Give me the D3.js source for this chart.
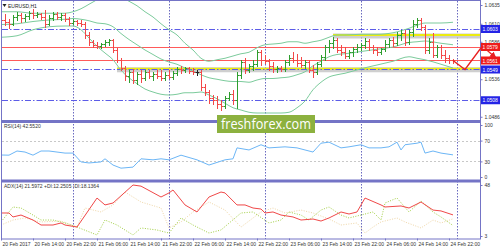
<!DOCTYPE html>
<html><head><meta charset="utf-8">
<script src="https://cdn.jsdelivr.net/npm/d3@7"></script>
<style>body{margin:0;background:#fff}svg{display:block}</style>
</head><body><svg id="c" width="500" height="250"></svg>
<script>
// ---------- DATA ----------
const symbolTitle = "EURUSD,H1";
const rsiTitle = "RSI(14) 42.5520";
const adxTitle = "ADX(14) 21.5972 +DI:12.2505 -DI:18.1364";
const firstBarHour = 6; // hours after 20 Feb 2017 00:00 (UTC), one bar per hour
const opens = [
1.0616,1.0615,1.0612,1.0610,1.0619,1.0622,1.0618,1.0620,1.0624,1.0622,
1.0623,1.0619,1.0610,1.0618,1.0623,1.0619,1.0622,1.0616,1.0611,1.0614,
1.0611,1.0610,1.0595,1.0586,1.0582,1.0580,1.0583,1.0586,1.0588,1.0575,
1.0562,1.0551,1.0540,1.0546,1.0535,1.0543,1.0538,1.0546,1.0540,1.0543,
1.0540,1.0538,1.0542,1.0539,1.0544,1.0550,1.0548,1.0551,1.0547,1.0546,
1.0546,1.0526,1.0519,1.0511,1.0508,1.0503,1.0500,1.0511,1.0516,1.0508,
1.0542,1.0559,1.0548,1.0554,1.0556,1.0572,1.0562,1.0560,1.0554,1.0550,
1.0551,1.0550,1.0559,1.0564,1.0562,1.0558,1.0555,1.0559,1.0548,1.0546,
1.0556,1.0566,1.0579,1.0584,1.0588,1.0575,1.0572,1.0567,1.0572,1.0576,
1.0579,1.0582,1.0587,1.0579,1.0575,1.0572,1.0576,1.0583,1.0588,1.0584,
1.0595,1.0598,1.0586,1.0599,1.0610,1.0615,1.0606,1.0575,1.0586,1.0568,
1.0579,1.0568,1.0564,1.0562];
const highs = [
1.0620,1.0623,1.0616,1.0622,1.0626,1.0624,1.0623,1.0627,1.0630,1.0626,
1.0624,1.0628,1.0622,1.0626,1.0626,1.0624,1.0624,1.0619,1.0616,1.0615,
1.0615,1.0612,1.0599,1.0588,1.0586,1.0584,1.0588,1.0590,1.0590,1.0578,
1.0564,1.0554,1.0548,1.0550,1.0546,1.0548,1.0548,1.0548,1.0546,1.0548,
1.0548,1.0546,1.0548,1.0547,1.0552,1.0554,1.0552,1.0552,1.0551,1.0548,
1.0548,1.0530,1.0522,1.0515,1.0514,1.0508,1.0514,1.0519,1.0522,1.0546,
1.0562,1.0564,1.0556,1.0562,1.0575,1.0575,1.0568,1.0563,1.0559,1.0554,
1.0554,1.0562,1.0568,1.0572,1.0570,1.0566,1.0562,1.0562,1.0555,1.0559,
1.0568,1.0582,1.0588,1.0592,1.0591,1.0582,1.0579,1.0575,1.0579,1.0583,
1.0584,1.0591,1.0590,1.0582,1.0579,1.0578,1.0588,1.0591,1.0592,1.0599,
1.0602,1.0602,1.0602,1.0615,1.0618,1.0618,1.0608,1.0591,1.0598,1.0582,
1.0582,1.0575,1.0568,1.0563];
const lows = [
1.0612,1.0608,1.0604,1.0608,1.0615,1.0612,1.0614,1.0616,1.0618,1.0619,
1.0616,1.0606,1.0608,1.0615,1.0616,1.0615,1.0614,1.0608,1.0610,1.0608,
1.0607,1.0591,1.0582,1.0579,1.0578,1.0578,1.0580,1.0582,1.0572,1.0559,
1.0548,1.0535,1.0532,1.0531,1.0530,1.0532,1.0535,1.0538,1.0535,1.0538,
1.0535,1.0535,1.0538,1.0536,1.0542,1.0544,1.0546,1.0544,1.0543,1.0542,
1.0522,1.0515,1.0504,1.0503,1.0498,1.0495,1.0498,1.0508,1.0503,1.0498,
1.0538,1.0544,1.0546,1.0548,1.0554,1.0555,1.0558,1.0548,1.0546,1.0546,
1.0547,1.0547,1.0555,1.0559,1.0554,1.0552,1.0551,1.0546,1.0539,1.0543,
1.0554,1.0562,1.0572,1.0578,1.0572,1.0568,1.0564,1.0564,1.0567,1.0572,
1.0575,1.0578,1.0575,1.0571,1.0568,1.0570,1.0574,1.0579,1.0580,1.0582,
1.0588,1.0582,1.0583,1.0594,1.0606,1.0602,1.0571,1.0571,1.0566,1.0566,
1.0564,1.0559,1.0558,1.0558];
const closes = [
1.0615,1.0612,1.0610,1.0619,1.0622,1.0618,1.0620,1.0624,1.0622,1.0623,
1.0619,1.0610,1.0618,1.0623,1.0619,1.0622,1.0616,1.0611,1.0614,1.0611,
1.0610,1.0595,1.0586,1.0582,1.0580,1.0583,1.0586,1.0588,1.0575,1.0562,
1.0551,1.0540,1.0546,1.0535,1.0543,1.0538,1.0546,1.0540,1.0543,1.0540,
1.0538,1.0542,1.0539,1.0544,1.0550,1.0548,1.0551,1.0547,1.0546,1.0546,
1.0526,1.0519,1.0511,1.0508,1.0503,1.0500,1.0511,1.0516,1.0508,1.0542,
1.0559,1.0548,1.0554,1.0556,1.0572,1.0562,1.0560,1.0554,1.0550,1.0551,
1.0550,1.0559,1.0564,1.0562,1.0558,1.0555,1.0559,1.0548,1.0546,1.0556,
1.0566,1.0579,1.0584,1.0588,1.0575,1.0572,1.0567,1.0572,1.0576,1.0579,
1.0582,1.0587,1.0579,1.0575,1.0572,1.0576,1.0583,1.0588,1.0584,1.0595,
1.0598,1.0586,1.0599,1.0610,1.0615,1.0606,1.0575,1.0586,1.0568,1.0579,
1.0568,1.0564,1.0562,1.0561];

const bandHours = [6,10,14,18,22,24,26,28,30,32,34,36,38,40,42,44,46,48,50,52,54,56,58,60,62,64,66,68,70,72,74,76,78,80,82,84,86,88,90,92,96,100,104,108,110,112,116,119];
const bandUpper = [1.0626,1.0626,1.0624,1.0624,1.0624,1.0626,1.0630,1.0636,1.0642,1.0648,1.0650,1.0646,1.0640,1.0634,1.0626,1.0619,1.0610,1.0602,1.0595,1.0584,1.0575,1.0564,1.0560,1.0562,1.0564,1.0567,1.0570,1.0572,1.0578,1.0582,1.0583,1.0584,1.0586,1.0586,1.0584,1.0586,1.0588,1.0592,1.0595,1.0595,1.0596,1.0596,1.0598,1.0604,1.0608,1.0611,1.0611,1.0612];
const bandMiddle = [1.0609,1.0610,1.0613,1.0615,1.0616,1.0617,1.0616,1.0614,1.0611,1.0610,1.0606,1.0597,1.0589,1.0582,1.0575,1.0569,1.0563,1.0559,1.0556,1.0551,1.0547,1.0542,1.0538,1.0536,1.0534,1.0533,1.0533,1.0532,1.0535,1.0537,1.0537,1.0538,1.0539,1.0542,1.0546,1.0554,1.0560,1.0566,1.0569,1.0570,1.0573,1.0576,1.0579,1.0585,1.0586,1.0587,1.0584,1.0582];
const bandLower = [1.0592,1.0594,1.0602,1.0606,1.0607,1.0607,1.0602,1.0591,1.0580,1.0571,1.0562,1.0548,1.0538,1.0530,1.0523,1.0519,1.0516,1.0515,1.0516,1.0518,1.0518,1.0519,1.0515,1.0510,1.0504,1.0498,1.0495,1.0492,1.0491,1.0491,1.0491,1.0491,1.0492,1.0498,1.0507,1.0522,1.0532,1.0539,1.0542,1.0544,1.0550,1.0555,1.0560,1.0566,1.0564,1.0562,1.0556,1.0551];

const blueLevels = [1.0603, 1.0549, 1.0508];
const redLevels = [1.0579, 1.0561];
const yellowLevels = [1.0550, 1.0595];
const yellowStartHours = [35, 89];
const forecastHours = [119, 122, 126.3];
const forecastPrices = [1.0561, 1.0549, 1.0580];
const arrowHours = [127, 129.6];
const arrowPrices = [1.0577, 1.0565];

const priceTicks = [1.0635, 1.0610, 1.0586, 1.0536, 1.0486];
const rsiTicks = [0, 30, 70, 100];
const adxTicks = [3, 48];

const rsiHours = [6,8,10,12,14,16,18,22,24,26,28,31,32,34,36,39,41,44,46,48,51,55,58,62,64,65,68,71,73,77,80,84,86,88,91,93,96,98,101,103,105,106,107,110,111,112,114,116,119];
const rsiValues = [42.3,42,50,48,42,50,50,46,46,29,27,29,35,23,17,19,35,33,35,33,42,33,23,33,35,56,52,62,56,58,56,48,65,67,56,58,62,56,56,58,67,52,62,65,67,46,50,46,42.55];

const adxHours = [6,8,9,11,14,16,19,21,22,25,30,32,34,39,41,46,48,49,52,55,58,61,62,65,67,69,71,72,74,76,79,81,84,86,88,91,93,95,97,101,102,106,108,111,114,116,119];
const adxValues = [23.3,23.3,19.8,21.5,17.1,12.7,12.7,14.5,12.7,10.9,36.5,30.4,32.1,48,47,37.4,41,43.6,30.4,24.2,37.4,41.8,41,30.4,30.4,27.7,26.8,23.3,24.2,21.5,19.8,17.1,18,16.2,18.9,24.2,22.4,24.2,36.5,30.4,28.6,29.5,27.7,33,25.9,25.1,21.6];
const plusDiHours = [6,9,11,14,16,19,22,25,30,32,35,39,41,45,48,51,54,58,61,66,69,73,76,78,81,83,86,88,91,93,96,99,101,102,105,108,111,114,116,119];
const plusDiValues = [15.4,28.6,27.7,21.5,17.1,17.1,14.5,10.9,3.9,17.1,12.7,3.9,10.1,8.3,5.6,18.9,12.7,5.6,8.3,23.3,24.2,14.5,17.1,24.2,21.5,17.1,25.9,28.6,21.5,18.9,21.5,24.2,17.1,32.1,36.5,24.2,33.9,24.2,19.8,12.25];
const minusDiHours = [6,9,12,16,21,25,27,31,34,37,41,46,48,51,54,58,62,66,71,74,77,81,84,88,91,95,97,99,101,105,107,111,114,116,119];
const minusDiValues = [12.7,17.1,18.9,15.4,16.2,10.9,27.7,24.2,30.4,41.8,33,27.7,10.1,15.4,24.2,33,25.9,10.9,24.2,27.7,23.3,25.9,23.3,18,12.7,14.5,5.6,10.9,15.4,18.9,15.4,10.1,17.1,14.5,18.14];

const dayBreakHours = [24, 48, 72, 96, 120];
const timeLabelHours = [6,14,22,30,38,46,54,62,70,78,86,94,102,110,118];
const timeLabels = ["20 Feb 2017","20 Feb 14:00","20 Feb 22:00","21 Feb 06:00","21 Feb 14:00","21 Feb 22:00","22 Feb 06:00","22 Feb 14:00","22 Feb 22:00","23 Feb 06:00","23 Feb 14:00","23 Feb 22:00","24 Feb 06:00","24 Feb 14:00","24 Feb 22:00"];
const watermark = "freshforex.com";

// ---------- SCALES ----------
const T0 = Date.UTC(2017, 1, 20, 0);
const hd = h => new Date(T0 + h * 3600e3);
const x = d3.scaleUtc().domain([hd(0), hd(120)]).range([-23, 457]);
const yP = d3.scaleLinear().domain([1.0486, 1.0635]).range([116.75, 5]);
const yR = d3.scaleLinear().domain([0, 100]).range([177, 125]);
const yA = d3.scaleLinear().domain([3, 48]).range([236, 185]);
const xh = h => x(hd(h));

const FONT = "'Liberation Sans', Arial, sans-serif";
const frame = "#7474c6";
const svg = d3.select("#c");
svg.append("rect").attr("width", 500).attr("height", 250).attr("fill", "#fff");

const defs = svg.append("defs");
defs.append("clipPath").attr("id", "cm").append("rect").attr("x", 2).attr("y", 1).attr("width", 478).attr("height", 119);
defs.append("clipPath").attr("id", "cr").append("rect").attr("x", 2).attr("y", 123).attr("width", 478).attr("height", 56);
defs.append("clipPath").attr("id", "ca").append("rect").attr("x", 2).attr("y", 183).attr("width", 478).attr("height", 55);
defs.append("marker").attr("id", "ah").attr("viewBox", "0 0 10 10").attr("refX", 8).attr("refY", 5)
  .attr("markerWidth", 5).attr("markerHeight", 5).attr("orient", "auto")
  .append("path").attr("d", "M0,0L10,5L0,10z").attr("fill", "#e82020");

// day separators
svg.append("g").selectAll("line").data(dayBreakHours).join("line")
  .attr("x1", d => Math.round(xh(d)) + 0.5).attr("x2", d => Math.round(xh(d)) + 0.5)
  .attr("y1", 1).attr("y2", 239)
  .attr("stroke", "#6a6ac0").attr("stroke-width", 1).attr("stroke-dasharray", "1.5,1.5");

// RSI 70 / 30 levels
svg.append("g").selectAll("line").data([30, 70]).join("line")
  .attr("x1", 2).attr("x2", 480).attr("y1", d => Math.round(yR(d)) + 0.5).attr("y2", d => Math.round(yR(d)) + 0.5)
  .attr("stroke", "#c8c8c8").attr("stroke-dasharray", "2,2");

// main panel
const main = svg.append("g").attr("clip-path", "url(#cm)");
yellowLevels.forEach((v, i) => {
  const y = yP(v);
  main.append("line").attr("x1", xh(yellowStartHours[i])).attr("x2", 480).attr("y1", y + 1).attr("y2", y + 1)
    .attr("stroke", "#c4c4c4").attr("stroke-width", 5).attr("opacity", 0.8);
  main.append("line").attr("x1", xh(yellowStartHours[i])).attr("x2", 480).attr("y1", y).attr("y2", y)
    .attr("stroke", "#ecec10").attr("stroke-width", 2);
});
main.append("g").selectAll("line").data(redLevels).join("line")
  .attr("x1", 2).attr("x2", 480).attr("y1", d => Math.round(yP(d)) + 0.5).attr("y2", d => Math.round(yP(d)) + 0.5)
  .attr("stroke", "#ff5a5a").attr("stroke-width", 1);
main.append("g").selectAll("line").data(blueLevels).join("line")
  .attr("x1", 2).attr("x2", 480).attr("y1", d => Math.round(yP(d)) + 0.5).attr("y2", d => Math.round(yP(d)) + 0.5)
  .attr("stroke", "#5c5ce8").attr("stroke-width", 1).attr("stroke-dasharray", "6,2,1.5,2");

const bandLine = arr => d3.line().x((d, i) => xh(bandHours[i])).y(d => yP(d)).curve(d3.curveMonotoneX)(arr);
[bandUpper, bandMiddle, bandLower].forEach(arr => {
  main.append("path").attr("d", bandLine(arr)).attr("fill", "none").attr("stroke", "#7ccb9c").attr("stroke-width", 1);
});

const bars = opens.map((o, i) => ({ t: hd(firstBarHour + i), o, h: highs[i], l: lows[i], c: closes[i] }));
main.append("g").selectAll("path").data(bars).join("path")
  .attr("d", d => {
    const xc = Math.round(x(d.t)) + 0.5;
    const r = v => Math.round(yP(v)) + 0.5;
    return `M${xc},${r(d.h) - 0.5}V${r(d.l) + 0.5}M${xc - 2},${r(d.o)}H${xc}M${xc},${r(d.c)}H${xc + 2}`;
  })
  .attr("fill", "none")
  .attr("stroke", d => d.c > d.o ? "#2e9e2e" : (d.c < d.o ? "#f24848" : "#222"))
  .attr("stroke-width", 1);

// RSI
svg.append("path").attr("clip-path", "url(#cr)")
  .attr("d", d3.line().x((d, i) => xh(rsiHours[i])).y(d => yR(d))(rsiValues))
  .attr("fill", "none").attr("stroke", "#6cb6f6").attr("stroke-width", 1);

// ADX
const adxG = svg.append("g").attr("clip-path", "url(#ca)");
adxG.append("path").attr("d", d3.line().x((d, i) => xh(minusDiHours[i])).y(d => yA(d))(minusDiValues))
  .attr("fill", "none").attr("stroke", "#efd6a6").attr("stroke-width", 1).attr("stroke-dasharray", "1,1.5");
adxG.append("path").attr("d", d3.line().x((d, i) => xh(plusDiHours[i])).y(d => yA(d))(plusDiValues))
  .attr("fill", "none").attr("stroke", "#a2cf44").attr("stroke-width", 1).attr("stroke-dasharray", "1,1.5");
adxG.append("path").attr("d", d3.line().x((d, i) => xh(adxHours[i])).y(d => yA(d))(adxValues))
  .attr("fill", "none").attr("stroke", "#f04848").attr("stroke-width", 1);

// frame
svg.append("rect").attr("x", 1.5).attr("y", 0.5).attr("width", 479).attr("height", 238.5)
  .attr("fill", "none").attr("stroke", frame).attr("stroke-width", 1);
svg.append("line").attr("x1", 1).attr("x2", 481).attr("y1", 121.5).attr("y2", 121.5).attr("stroke", frame).attr("stroke-width", 3);
svg.append("line").attr("x1", 1).attr("x2", 481).attr("y1", 181).attr("y2", 181).attr("stroke", frame).attr("stroke-width", 3);

function styleAxis(g) {
  g.select(".domain").remove();
  g.attr("font-family", FONT).attr("font-size", 5);
  g.selectAll(".tick line").attr("stroke", frame);
  g.selectAll(".tick text").attr("fill", "#333");
}
svg.append("g").attr("transform", "translate(480.5,0)")
  .call(d3.axisRight(yP).tickValues(priceTicks).tickSize(2).tickPadding(2).tickFormat(d3.format(".4f"))).call(styleAxis);
svg.append("g").attr("transform", "translate(480.5,0)")
  .call(d3.axisRight(yR).tickValues(rsiTicks).tickSize(2).tickPadding(2).tickFormat(d3.format("d"))).call(styleAxis);
svg.append("g").attr("transform", "translate(480.5,0)")
  .call(d3.axisRight(yA).tickValues(adxTicks).tickSize(2).tickPadding(2).tickFormat(d3.format("d"))).call(styleAxis);
const bx = svg.append("g").attr("transform", "translate(0,238.5)")
  .call(d3.axisBottom(x).tickValues(timeLabelHours.map(hd)).tickSize(2).tickPadding(2).tickFormat((d, i) => timeLabels[i]))
  .call(styleAxis);
bx.selectAll(".tick text").attr("text-anchor", "start").attr("x", 1);

const boxes = [
  ...blueLevels.map(v => ({ v, c: "#2424e6" })),
  ...redLevels.map(v => ({ v, c: "#ee1c1c" }))
];
const bg = svg.append("g");
bg.selectAll("rect").data(boxes).join("rect")
  .attr("x", 481).attr("y", d => yP(d.v) - 4).attr("width", 19).attr("height", 8).attr("fill", d => d.c);
bg.selectAll("text").data(boxes).join("text")
  .attr("x", 482.5).attr("y", d => yP(d.v) + 2).attr("fill", "#fff")
  .attr("font-family", FONT).attr("font-size", 5).text(d => d.v.toFixed(4));

svg.append("path")
  .attr("d", d3.line().x((d, i) => xh(forecastHours[i])).y(d => yP(d))(forecastPrices))
  .attr("fill", "none").attr("stroke", "#e82020").attr("stroke-width", 1.3);
svg.append("path")
  .attr("d", d3.line().x((d, i) => xh(arrowHours[i])).y(d => yP(d))(arrowPrices))
  .attr("fill", "none").attr("stroke", "#e82020").attr("stroke-width", 1.3).attr("marker-end", "url(#ah)");

svg.append("path").attr("d", "M2.5,4L6.5,4L4.5,7z").attr("fill", "#222");
svg.append("text").attr("x", 8).attr("y", 7.5).attr("font-family", FONT).attr("font-size", 5).attr("fill", "#222").text(symbolTitle);
svg.append("text").attr("x", 4).attr("y", 127.5).attr("font-family", FONT).attr("font-size", 5).attr("fill", "#333").text(rsiTitle);
svg.append("text").attr("x", 4).attr("y", 188).attr("font-family", FONT).attr("font-size", 5).attr("fill", "#333").text(adxTitle);

svg.append("rect").attr("x", 217).attr("y", 115).attr("width", 98).attr("height", 18).attr("fill", "#8cb13f");
svg.append("text").attr("x", 221).attr("y", 129).attr("font-family", "'Open Sans', sans-serif")
  .attr("font-size", 14).attr("fill", "#fff").attr("textLength", 90).attr("lengthAdjust", "spacingAndGlyphs").text(watermark);
</script>
</body></html>
